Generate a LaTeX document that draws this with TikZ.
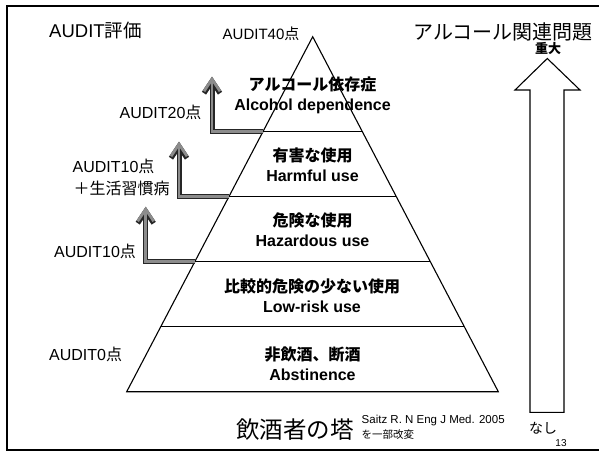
\documentclass[tikz,border=0pt]{standalone}
\usepackage{fontspec}
\setmainfont{Liberation Sans}
\newfontfamily\jp{Noto Sans CJK JP}
\usetikzlibrary{arrows.meta,calc}
\newcommand{\fsz}[2]{\fontsize{#1}{#2}\selectfont}
\begin{document}
\begin{tikzpicture}[x=1pt,y=-1pt,
  tier/.style={align=center, font=\bfseries\fsz{16}{20}, inner sep=0pt},
  lab/.style={font=\fsz{16}{22}, inner sep=0pt, anchor=west, align=left},
  pyr/.style={line width=1.1pt, line join=miter},
  audarrow/.style={line width=2.8pt, draw=black!45, line join=miter,
    -{Straight Barb[length=12pt,width=16pt]},
    preaction={draw=black!85, line width=5pt, -{Straight Barb[length=12pt,width=16pt]}}},
  bigarrow/.style={line width=1.1pt, line join=miter}
]
\useasboundingbox (0,0) rectangle (599,452);
% frame
\draw[line width=1.8pt] (599,6) -- (7,6) -- (7,450) -- (599,450);

% pyramid
\coordinate (apex) at (312.7,36.7);
\coordinate (bl) at (126.7,391.7);
\coordinate (br) at (498.3,391.7);
\coordinate (L1) at ($(apex)!0.2676!(bl)$);
\coordinate (R1) at ($(apex)!0.2676!(br)$);
\coordinate (L2) at ($(apex)!0.4507!(bl)$);
\coordinate (R2) at ($(apex)!0.4507!(br)$);
\coordinate (L3) at ($(apex)!0.6338!(bl)$);
\coordinate (R3) at ($(apex)!0.6338!(br)$);
\coordinate (L4) at ($(apex)!0.8169!(bl)$);
\coordinate (R4) at ($(apex)!0.8169!(br)$);
\draw[pyr] (apex) -- (bl) -- (br) -- cycle;
\draw[pyr] (L1) -- (R1);
\draw[pyr] (L2) -- (R2);
\draw[pyr] (L3) -- (R3);
\draw[pyr] (L4) -- (R4);

% tier labels
\node[tier] (t1) at (312.5,95) {{\jp アルコール依存症}\\Alcohol dependence};
\node[tier] (t2) at (312.5,164.5) {{\jp 有害な使用}\\Harmful use};
\node[tier] (t3) at (312.5,230) {{\jp 危険な使用}\\Hazardous use};
\node[tier] (t4) at (312,295.5) {{\jp 比較的危険の少ない使用}\\Low-risk use};
\node[tier] (t5) at (312.5,363.5) {{\jp 非飲酒、断酒}\\Abstinence};

% left labels
\node[lab, font=\fsz{18.5}{22}] (h1) at (49,30) {AUDIT{\jp 評価}};
\node[lab, font=\fsz{15}{18}] (a40) at (222.5,33.5) {AUDIT40{\jp 点}};
\node[lab] (a20) at (119.5,112.3) {AUDIT20{\jp 点}};
\node[lab] (a10a) at (72.5,166) {AUDIT10{\jp 点}};
\node[lab] (a10b) at (73.5,188.5) {{\jp ＋生活習慣病}};
\node[lab] (a10c) at (54,251.7) {AUDIT10{\jp 点}};
\node[lab] (a0) at (49,354) {AUDIT0{\jp 点}};

% step arrows
\coordinate (tipA) at (212,76.7);
\coordinate (tipB) at (179,141.7);
\coordinate (tipC) at (145.7,206.7);
\draw[audarrow] (L1) -| (tipA);
\draw[audarrow] (L2) -| (tipB);
\draw[audarrow] (L3) -| (tipC);

% right side
\node[font=\jp\fsz{20}{24}, inner sep=0pt] (rt) at (503,31.7) {アルコール関連問題};
\node[font=\jp\bfseries\fsz{13}{15}, inner sep=0pt] (sev) at (548,49) {重大};
\node[font=\jp\fsz{14}{16}, inner sep=0pt] (none) at (543,428) {なし};
\node[font=\fsz{10}{12}, inner sep=0pt] (pg) at (561,443) {13};
\coordinate (ba1) at (530,412.3);
\coordinate (ba2) at (564,412.3);
\draw[bigarrow] (ba1) -- (530,90) -- (515,90) -- (547.3,58.5) -- (580,90) -- (564,90) -- (ba2) -- cycle;

% bottom
\node[font=\jp\fsz{23.5}{27}, inner sep=0pt, anchor=west] (title) at (236,429.3) {飲酒者の塔};
\node[font=\fsz{11.5}{13}, inner sep=0pt, anchor=west] (ref1) at (361.5,420.5) {Saitz R. N Eng J Med. 2005};
\node[font=\jp\fsz{10.5}{12}, inner sep=0pt, anchor=west] (ref2) at (361.5,435) {を一部改変};
\end{tikzpicture}
\end{document}
